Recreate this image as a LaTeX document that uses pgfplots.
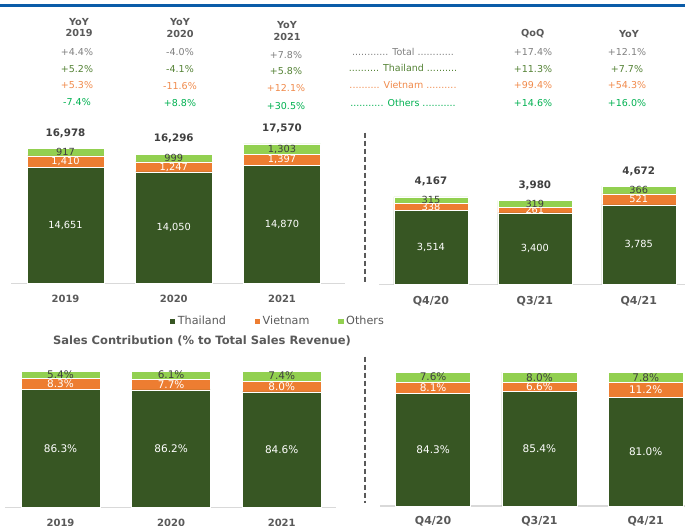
\documentclass[border=0pt]{standalone}
\usepackage{pgfplots}
\pgfplotsset{compat=1.18}
\usepackage{fontspec}
\setmainfont{DejaVu Sans}
\definecolor{thai}{HTML}{375623}
\definecolor{viet}{HTML}{ED7D31}
\definecolor{oth}{HTML}{92D050}
\definecolor{hdr}{HTML}{595959}
\definecolor{tot}{HTML}{7F7F7F}
\definecolor{thtxt}{HTML}{548235}
\definecolor{vntxt}{HTML}{F08A4B}
\definecolor{ottxt}{HTML}{00B050}
\definecolor{blueband}{HTML}{0B5CA8}
\definecolor{dark}{HTML}{404040}
\definecolor{base}{HTML}{D9D9D9}
\newcommand\fnum{\fontsize{9.8}{11}\selectfont}
\newcommand\fpct{\fontsize{10.5}{12}\selectfont}
\newcommand\ftot{\fontsize{10.3}{12}\selectfont\bfseries}
\newcommand\ftab{\fontsize{9.5}{11.3}\selectfont}
\newcommand\fhdr{\fontsize{9.7}{11.4}\selectfont\bfseries}

\pgfplotsset{
  seg/.style={fill=#1, draw=white, line width=0.5pt},
  base chart/.style={
    ybar stacked,
    axis y line=none, axis x line*=bottom,
    x axis line style={-, draw=base, line width=1.3pt},
    xtick={0,1,2}, major tick length=0pt,
    xticklabel style={anchor=center, text=hdr},
    clip=false,
  },
  label axis/.style={hide axis, clip=false, nodes near coords,
    /pgf/number format/assume math mode=true,
    /pgf/number format/1000 sep={,}},
  lab/.style 2 args={draw=none, mark=none, point meta=explicit,
    nodes near coords style={anchor=center, text=#1, font=#2}},
  totlab/.style={draw=none, mark=none, point meta=explicit,
    nodes near coords style={anchor=center, yshift=#1, font=\ftot, text=dark}},
  pctfmt/.style={nodes near coords={\pgfmathprintnumber[fixed,fixed zerofill,precision=1]{\pgfplotspointmeta}\%}},
  geomA/.style={scale only axis, at={(11.4pt,241.7pt)}, anchor=south west,
    width=333.4pt, height=158.6pt, ymin=0, ymax=20000, xmin=-0.5, xmax=2.58},
  geomB/.style={scale only axis, at={(379pt,240.7pt)}, anchor=south west,
    width=306.5pt, height=126pt, ymin=0, ymax=6000, xmin=-0.5, xmax=2.45},
  geomC/.style={scale only axis, at={(5pt,17.7pt)}, anchor=south west,
    width=330.9pt, height=136.3pt, ymin=0, ymax=100, xmin=-0.502, xmax=2.49},
  geomD/.style={scale only axis, at={(380pt,19pt)}, anchor=south west,
    width=305pt, height=134pt, ymin=0, ymax=100, xmin=-0.5, xmax=2.37},
}

\begin{document}
\begin{tikzpicture}
\path[use as bounding box] (0,0) rectangle (685pt,525pt);
\clip (0,0) rectangle (685pt,525pt);
\fill[blueband] (0,517.7pt) rectangle (685pt,521pt);

% ---- top-left table ----
\tikzset{tab/.style={font=\ftab, anchor=center, text height=7pt, text depth=2pt, inner sep=0pt}}
\node[font=\fhdr, text=hdr, align=center] at (79pt,497.6pt) {YoY\\2019};
\node[font=\fhdr, text=hdr, align=center] at (180pt,497pt) {YoY\\2020};
\node[font=\fhdr, text=hdr, align=center] at (287pt,494pt) {YoY\\2021};
\node[tab, text=tot]   at (77pt,472.3pt) {+4.4\%};
\node[tab, text=thtxt] at (77pt,455pt)   {+5.2\%};
\node[tab, text=vntxt] at (77pt,439pt)   {+5.3\%};
\node[tab, text=ottxt] at (77pt,422pt)   {-7.4\%};
\node[tab, text=tot]   at (180pt,472pt) {-4.0\%};
\node[tab, text=thtxt] at (180pt,455pt) {-4.1\%};
\node[tab, text=vntxt] at (180pt,438pt) {-11.6\%};
\node[tab, text=ottxt] at (180pt,421pt) {+8.8\%};
\node[tab, text=tot]   at (286pt,469.3pt) {+7.8\%};
\node[tab, text=thtxt] at (286pt,453pt)   {+5.8\%};
\node[tab, text=vntxt] at (286pt,436pt)   {+12.1\%};
\node[tab, text=ottxt] at (286pt,418pt)   {+30.5\%};

% ---- top-right table ----
\node[font=\fhdr, text=hdr] at (532.7pt,491pt) {QoQ};
\node[font=\fhdr, text=hdr] at (629pt,491pt) {YoY};
\node[tab, text=tot]   at (403pt,472.3pt) {............ Total ............};
\node[tab, text=thtxt] at (403pt,456pt)   {.......... Thailand ..........};
\node[tab, text=vntxt] at (403pt,439pt)   {.......... Vietnam ..........};
\node[tab, text=ottxt] at (403pt,421pt)   {........... Others ...........};
\node[tab, text=tot]   at (533pt,472.3pt) {+17.4\%};
\node[tab, text=thtxt] at (533pt,455pt)   {+11.3\%};
\node[tab, text=vntxt] at (533pt,439pt)   {+99.4\%};
\node[tab, text=ottxt] at (533pt,421pt)   {+14.6\%};
\node[tab, text=tot]   at (627pt,472.3pt) {+12.1\%};
\node[tab, text=thtxt] at (627pt,455pt)   {+7.7\%};
\node[tab, text=vntxt] at (627pt,439pt)   {+54.3\%};
\node[tab, text=ottxt] at (627pt,421pt)   {+16.0\%};

% separators
\draw[hdr, line width=2.5pt, dash pattern=on 5pt off 3pt] (365pt,392.3pt) -- (365pt,242.3pt);
\draw[hdr, line width=2.5pt, dash pattern=on 5pt off 3pt] (365pt,168.3pt) -- (365pt,22pt);

\node[font=\fontsize{11.5}{13}\selectfont\bfseries, text=hdr] at (202pt,184pt) {Sales Contribution (\% to Total Sales Revenue)};

% ---- top-left chart: annual sales ----
\begin{axis}[geomA, base chart,
  bar width=77pt, xticklabels={2019,2020,2021},
  xticklabel style={yshift=-15.7pt, font=\fontsize{10}{12}\selectfont\bfseries},
  legend style={at={(0.798,-0.238)}, anchor=center, draw=none, fill=none,
    legend columns=3, font=\fontsize{11.2}{13}\selectfont, text=hdr,
    /tikz/every even column/.append style={column sep=26pt}},
  legend image code/.code={\fill[#1] (0pt,-3.15pt) rectangle (6.3pt,3.15pt);}]
\addplot[seg=thai] coordinates {(0,14651) (1,14050) (2,14870)};
\addlegendentry{Thailand}
\addplot[seg=viet] coordinates {(0,1410) (1,1247) (2,1397)};
\addlegendentry{Vietnam}
\addplot[seg=oth] coordinates {(0,917) (1,999) (2,1303)};
\addlegendentry{Others}
\end{axis}
\begin{axis}[geomA, label axis]
\addplot[lab={white}{\fnum}] coordinates {(0,7325.5) [14651] (1,7025) [14050] (2,7435) [14870]};
\addplot[lab={white}{\fnum}] coordinates {(0,15356) [1410] (1,14673.5) [1247] (2,15568.5) [1397]};
\addplot[lab={dark}{\fnum}] coordinates {(0,16519.5) [917] (1,15796.5) [999] (2,16918.5) [1303]};
\addplot[totlab=15.5pt] coordinates {(0,16978) [16978] (1,16296) [16296] (2,17570) [17570]};
\end{axis}

% ---- top-right chart: quarterly ----
\begin{axis}[geomB, base chart,
  bar width=74pt, xticklabels={Q4/20,Q3/21,Q4/21},
  xticklabel style={yshift=-17.4pt, font=\fontsize{11}{12}\selectfont\bfseries}]
\addplot[seg=thai] coordinates {(0,3514) (1,3400) (2,3785)};
\addplot[seg=viet] coordinates {(0,338) (1,261) (2,521)};
\addplot[seg=oth] coordinates {(0,315) (1,319) (2,366)};
\end{axis}
\begin{axis}[geomB, label axis]
\addplot[lab={white}{\fnum}] coordinates {(0,1757) [3514] (1,1700) [3400] (2,1892.5) [3785]};
\addplot[lab={white}{\fnum}] coordinates {(0,3683) [338] (1,3530.5) [261] (2,4045.5) [521]};
\addplot[lab={dark}{\fnum}] coordinates {(0,4009.5) [315] (1,3820.5) [319] (2,4489) [366]};
\addplot[totlab=15pt] coordinates {(0,4167) [4167] (1,3980) [3980] (2,4672) [4672]};
\end{axis}

% ---- bottom-left chart: annual contribution ----
\begin{axis}[geomC, base chart,
  bar width=79pt, xticklabels={2019,2020,2021},
  xticklabel style={yshift=-15.7pt, font=\fontsize{10}{12}\selectfont\bfseries}]
\addplot[seg=thai] coordinates {(0,86.3) (1,86.2) (2,84.6)};
\addplot[seg=viet] coordinates {(0,8.3) (1,7.7) (2,8.0)};
\addplot[seg=oth] coordinates {(0,5.4) (1,6.1) (2,7.4)};
\end{axis}
\begin{axis}[geomC, label axis, pctfmt]
\addplot[lab={white}{\fpct}] coordinates {(0,43.15) [86.3] (1,43.1) [86.2] (2,42.3) [84.6]};
\addplot[lab={white}{\fpct}] coordinates {(0,90.45) [8.3] (1,90.05) [7.7] (2,88.6) [8.0]};
\addplot[lab={dark}{\fpct}] coordinates {(0,97.3) [5.4] (1,96.95) [6.1] (2,96.3) [7.4]};
\end{axis}

% ---- bottom-right chart: quarterly contribution ----
\begin{axis}[geomD, base chart,
  bar width=75pt, xticklabels={Q4/20,Q3/21,Q4/21},
  xticklabel style={yshift=-15.7pt, font=\fontsize{11}{12}\selectfont\bfseries}]
\addplot[seg=thai] coordinates {(0,84.3) (1,85.4) (2,81.0)};
\addplot[seg=viet] coordinates {(0,8.1) (1,6.6) (2,11.2)};
\addplot[seg=oth] coordinates {(0,7.6) (1,8.0) (2,7.8)};
\end{axis}
\begin{axis}[geomD, label axis, pctfmt]
\addplot[lab={white}{\fpct}] coordinates {(0,42.15) [84.3] (1,42.7) [85.4] (2,40.5) [81.0]};
\addplot[lab={white}{\fpct}] coordinates {(0,88.35) [8.1] (1,88.7) [6.6] (2,86.6) [11.2]};
\addplot[lab={dark}{\fpct}] coordinates {(0,96.2) [7.6] (1,96) [8.0] (2,96.1) [7.8]};
\end{axis}
\end{tikzpicture}
\end{document}
